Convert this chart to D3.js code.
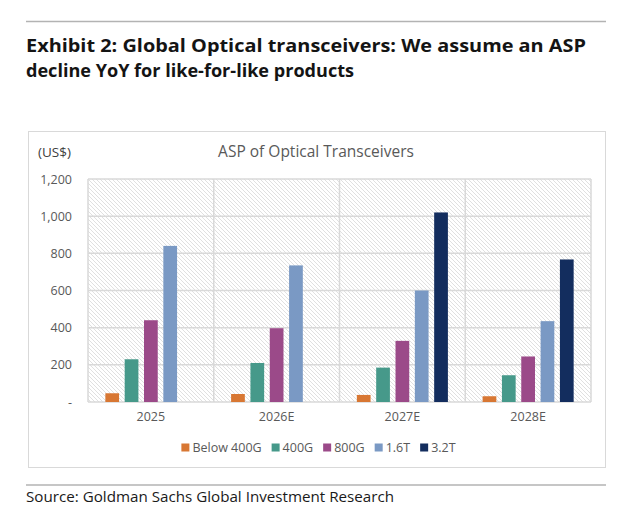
<!DOCTYPE html>
<html>
<head>
<meta charset="utf-8">
<script src="https://cdn.jsdelivr.net/npm/d3@7"></script>
<style>
  body { margin: 0; background: #fff; }
  svg { display: block; }
</style>
</head>
<body>
<div id="chart"></div>
<script>
// chart data
var categories = ["2025", "2026E", "2027E", "2028E"];
var seriesNames = ["Below 400G", "400G", "800G", "1.6T", "3.2T"];
var below400G = [47, 43, 38, 31];
var g400 = [230, 210, 185, 144];
var g800 = [440, 397, 329, 245];
var t16 = [840, 735, 600, 435];
var t32 = [0, 0, 1020, 767];
var yTicks = [0, 200, 400, 600, 800, 1000, 1200];

var seriesValues = [below400G, g400, g800, t16, t32];
var colors = ["#d87733", "#46998a", "#9b4a89", "#7a99c4", "#132d5e"];

var svgWidth = 626, svgHeight = 522;

var svg = d3.select("#chart")
    .append("svg")
    .attr("width", svgWidth)
    .attr("height", svgHeight);

// hatch pattern for the plot background
var defs = svg.append("defs");
var pat = defs.append("pattern")
    .attr("id", "hatch")
    .attr("patternUnits", "userSpaceOnUse")
    .attr("width", 4)
    .attr("height", 4);
pat.append("rect").attr("width", 4).attr("height", 4).attr("fill", "#ffffff");
pat.append("path")
    .attr("d", "M-1,-1 L5,5 M-1,3 L1,5 M3,-1 L5,1")
    .attr("stroke", "#e0e0e0")
    .attr("stroke-width", 1);

// header rule and title
svg.append("line")
    .attr("x1", 26).attr("x2", 606)
    .attr("y1", 21.5).attr("y2", 21.5)
    .attr("stroke", "#b3b3b3").attr("stroke-width", 1.5);

var titleLines = ["Exhibit 2: Global Optical transceivers: We assume an ASP",
                  "decline YoY for like-for-like products"];
var titleWidths = [560, 328];
titleLines.forEach(function(t, i) {
    svg.append("text")
        .attr("x", 26)
        .attr("y", 52 + i * 25)
        .attr("font-family", "'Open Sans', 'Liberation Sans', sans-serif")
        .attr("font-weight", "bold")
        .attr("font-size", "18px")
        .attr("fill", "#141414")
        .attr("textLength", titleWidths[i])
        .attr("lengthAdjust", "spacingAndGlyphs")
        .text(t);
});

// chart frame
svg.append("rect")
    .attr("x", 28.5).attr("y", 131.5)
    .attr("width", 577).attr("height", 336)
    .attr("fill", "#ffffff")
    .attr("stroke", "#d9d9d9").attr("stroke-width", 1);

var margin = { top: 179, left: 88, right: 35, bottom: 120 };
var plotW = 591 - margin.left;
var plotH = 402 - margin.top;

var chartGroup = svg.append("g")
    .attr("transform", `translate(${margin.left}, ${margin.top})`);

// scales
var x0 = d3.scaleBand().domain(categories).range([0, plotW]).padding(0);
var pad = x0.bandwidth() * 0.138;
var x1 = d3.scaleBand().domain(seriesNames)
    .range([pad, x0.bandwidth() - pad])
    .paddingInner(0.29).paddingOuter(0);
var y = d3.scaleLinear().domain([0, 1200]).range([plotH, 0]);

// plot background
chartGroup.append("rect")
    .attr("width", plotW).attr("height", plotH)
    .attr("fill", "url(#hatch)");

// horizontal gridlines
chartGroup.selectAll(".hgrid")
    .data(yTicks)
    .enter()
    .append("line")
    .attr("x1", 0).attr("x2", plotW)
    .attr("y1", function(d) { return y(d); })
    .attr("y2", function(d) { return y(d); })
    .attr("stroke", "#d9d9d9").attr("stroke-width", 1.5);

// vertical gridlines at category boundaries
var vLines = categories.map(function(c) { return x0(c); }).concat([plotW]);
chartGroup.selectAll(".vgrid")
    .data(vLines)
    .enter()
    .append("line")
    .attr("x1", function(d) { return d; })
    .attr("x2", function(d) { return d; })
    .attr("y1", 0).attr("y2", plotH)
    .attr("stroke", "#d9d9d9").attr("stroke-width", 1.5);

// bars
var rows = [];
categories.forEach(function(c, ci) {
    seriesNames.forEach(function(s, si) {
        rows.push({ cat: c, series: s, si: si, value: seriesValues[si][ci] });
    });
});

chartGroup.selectAll(".bar")
    .data(rows.filter(function(d) { return d.value > 0; }))
    .enter()
    .append("rect")
    .attr("x", function(d) { return x0(d.cat) + x1(d.series); })
    .attr("y", function(d) { return y(d.value); })
    .attr("width", x1.bandwidth())
    .attr("height", function(d) { return plotH - y(d.value); })
    .attr("fill", function(d) { return colors[d.si]; });

// y axis labels
var leftAxis = d3.axisLeft(y)
    .tickValues(yTicks)
    .tickSize(0)
    .tickPadding(16)
    .tickFormat(function(d) { return d === 0 ? "-" : d3.format(",")(d); });

var yAxisG = chartGroup.append("g").call(leftAxis);
yAxisG.select(".domain").remove();
yAxisG.selectAll("text")
    .attr("font-family", "'Open Sans', 'Liberation Sans', sans-serif")
    .attr("font-size", "12.5px")
    .attr("fill", "#595959");

// x axis labels
var bottomAxis = d3.axisBottom(x0).tickSize(0).tickPadding(10);
var xAxisG = chartGroup.append("g")
    .attr("transform", `translate(0, ${plotH})`)
    .call(bottomAxis);
xAxisG.select(".domain").remove();
xAxisG.selectAll("text")
    .attr("font-family", "'Open Sans', 'Liberation Sans', sans-serif")
    .attr("font-size", "12.5px")
    .attr("fill", "#595959");

// chart title and unit label
svg.append("text")
    .attr("x", 316).attr("y", 157)
    .attr("text-anchor", "middle")
    .attr("font-family", "'Open Sans', 'Liberation Sans', sans-serif")
    .attr("font-size", "15.5px")
    .attr("fill", "#595959")
    .text("ASP of Optical Transceivers");

svg.append("text")
    .attr("x", 38).attr("y", 157)
    .attr("font-family", "'Open Sans', 'Liberation Sans', sans-serif")
    .attr("font-size", "13.5px")
    .attr("fill", "#404040")
    .text("(US$)");

// legend
var legend = svg.append("g");
var lx = 0;
seriesNames.forEach(function(s, i) {
    var item = legend.append("g").attr("transform", `translate(${lx}, 0)`);
    item.append("rect")
        .attr("x", 0).attr("y", -8)
        .attr("width", 8).attr("height", 8)
        .attr("fill", colors[i]);
    var t = item.append("text")
        .attr("x", 11).attr("y", 0)
        .attr("font-family", "'Open Sans', 'Liberation Sans', sans-serif")
        .attr("font-size", "12.5px")
        .attr("fill", "#595959")
        .text(s);
    lx += 11 + t.node().getComputedTextLength() + 10;
});
var legendW = lx - 10;
legend.attr("transform", `translate(${318.5 - legendW / 2}, 451.5)`);

// footer
svg.append("line")
    .attr("x1", 26).attr("x2", 606)
    .attr("y1", 485).attr("y2", 485)
    .attr("stroke", "#b3b3b3").attr("stroke-width", 1.5);

svg.append("text")
    .attr("x", 26).attr("y", 502)
    .attr("font-family", "'Open Sans', 'Liberation Sans', sans-serif")
    .attr("font-size", "15px")
    .attr("fill", "#1a1a1a")
    .attr("textLength", 368)
    .attr("lengthAdjust", "spacingAndGlyphs")
    .text("Source: Goldman Sachs Global Investment Research");
</script>
</body>
</html>
